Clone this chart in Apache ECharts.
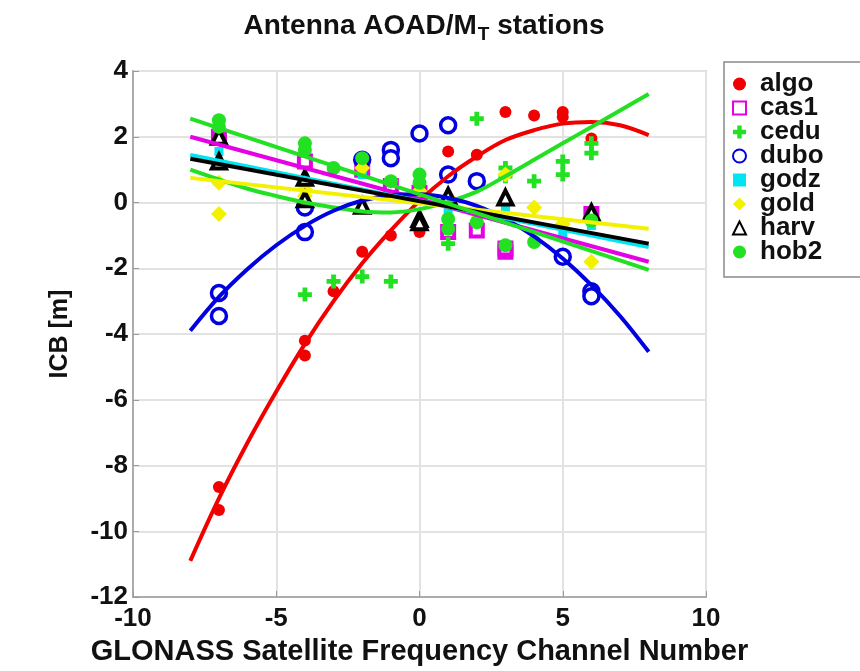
<!DOCTYPE html>
<html>
<head>
<meta charset="utf-8">
<script src="https://cdn.jsdelivr.net/npm/echarts@6/dist/echarts.min.js"></script>
<style>
  html, body { margin: 0; padding: 0; background: #ffffff; }
  #chart { width: 860px; height: 671px; }
</style>
</head>
<body>
<div id="chart"></div>
<script>
// ---- Measured ICB values per station (channel number, ICB in metres) ----
const algoX = [-7, -7, -4, -4, -3, -2, -1, 0, 0, 1, 2, 3, 4, 5, 5, 6];
const algoY = [-8.65, -9.35, -4.2, -4.65, -2.7, -1.5, -1.0, -0.75, -0.9, 1.55, 1.45, 2.75, 2.65, 2.75, 2.6, 1.95];

const cas1X = [-7, -4, -2, -1, 0, 1, 2, 3, 3, 6];
const cas1Y = [2.0, 1.25, 1.0, 0.5, 0.3, -0.9, -0.85, -1.5, -1.4, -0.35];

const ceduX = [-4, -3, -2, -1, 1, 2, 3, 3, 4, 5, 5, 6, 6];
const ceduY = [-2.8, -2.4, -2.25, -2.4, -1.25, 2.55, 1.05, 0.8, 0.65, 1.25, 0.85, 1.5, 1.8];

const duboX = [-7, -7, -4, -4, -2, -1, -1, 0, 1, 1, 2, 5, 6, 6];
const duboY = [-2.75, -3.45, -0.9, -0.15, 1.3, 1.6, 1.35, 2.1, 2.35, 0.85, 0.65, -1.65, -2.7, -2.85];

const godzX = [-7, -4, -2, 0, 1, 2, 3, 5, 6];
const godzY = [1.55, 0.4, 0.85, 0.25, -0.2, -0.45, -0.15, -0.95, -0.7];

const goldX = [-7, -7, -4, -4, -2, 0, 1, 2, 3, 4, 5, 6];
const goldY = [0.6, -0.35, 0.4, 0.2, 1.05, 0.35, 0.15, -0.35, 0.85, -0.15, -0.65, -1.8];

const harvX = [-7, -7, -4, -4, -2, 0, 0, 1, 3, 6];
const harvY = [2.0, 1.25, 0.75, 0.1, -0.1, -0.5, -0.6, 0.2, 0.15, -0.3];

const hob2X = [-7, -7, -4, -4, -3, -2, -1, 0, 0, 1, 1, 2, 3, 4, 6];
const hob2Y = [2.5, 2.3, 1.8, 1.6, 1.05, 1.35, 0.65, 0.85, 0.6, -0.5, -0.8, -0.6, -1.3, -1.2, -0.55];

// ---- Fitted curves (values read along channel -8 ... 8) ----
const curveX = [-8, -7, -6, -5, -4, -3, -2, -1, 0, 1, 2, 3, 4, 5, 6, 7, 8];
const algoFit = [-10.9, -9.0, -7.3, -5.75, -4.3, -3.0, -1.85, -0.85, 0.05, 0.8, 1.4, 1.9, 2.2, 2.4, 2.45, 2.35, 2.05];
const ceduFit = [1.0, 0.7, 0.42, 0.2, 0.0, -0.15, -0.27, -0.3, -0.2, 0.02, 0.33, 0.8, 1.3, 1.8, 2.3, 2.8, 3.3];
const duboFit = [-3.9, -2.87, -2.02, -1.3, -0.71, -0.25, 0.06, 0.22, 0.25, 0.14, -0.1, -0.5, -1.03, -1.7, -2.51, -3.45, -4.54];

// straight-line fits, given at both ends of the channel range
const lineX = [-8, 8];
const cas1Fit = [2.0, -1.8];
const godzFit = [1.45, -1.35];
const goldFit = [0.75, -0.8];
const harvFit = [1.33, -1.25];
const hob2Fit = [2.55, -2.05];

// ---- Axis ticks ----
const xTicks = [-10, -5, 0, 5, 10];
const yTicks = [-12, -10, -8, -6, -4, -2, 0, 2, 4];

const FONT = '"Liberation Sans", Arial, Helvetica, sans-serif';
const PLUS = 'path://M3.3,0H6.7V3.3H10V6.7H6.7V10H3.3V6.7H0V3.3H3.3Z';

const pair = (xs, ys) => xs.map((x, i) => [x, ys[i]]);

const stations = [
  { name: 'algo', x: algoX, y: algoY, fx: curveX, fy: algoFit, color: '#f20000', symbol: 'circle', size: 12, fill: '#f20000', bw: 0 },
  { name: 'cas1', x: cas1X, y: cas1Y, fx: lineX, fy: cas1Fit, color: '#e600e6', symbol: 'rect', size: 12, fill: '#ffffff', bw: 4 },
  { name: 'cedu', x: ceduX, y: ceduY, fx: curveX, fy: ceduFit, color: '#22e022', symbol: PLUS, size: 14, fill: '#22e022', bw: 0 },
  { name: 'dubo', x: duboX, y: duboY, fx: curveX, fy: duboFit, color: '#0000e0', symbol: 'circle', size: 15, fill: '#ffffff', bw: 3.5 },
  { name: 'godz', x: godzX, y: godzY, fx: lineX, fy: godzFit, color: '#00e5f0', symbol: 'rect', size: 9, fill: '#00e5f0', bw: 0 },
  { name: 'gold', x: goldX, y: goldY, fx: lineX, fy: goldFit, color: '#f2f200', symbol: 'diamond', size: 16, fill: '#f2f200', bw: 0 },
  { name: 'harv', x: harvX, y: harvY, fx: lineX, fy: harvFit, color: '#000000', symbol: 'triangle', size: 14, fill: '#ffffff', bw: 4 },
  { name: 'hob2', x: hob2X, y: hob2Y, fx: lineX, fy: hob2Fit, color: '#22e022', symbol: 'circle', size: 14, fill: '#22e022', bw: 0 }
];

const series = [];
stations.forEach((s, i) => {
  series.push({
    name: s.name,
    type: 'scatter',
    data: pair(s.x, s.y),
    symbol: s.symbol,
    symbolSize: s.size,
    itemStyle: { color: s.fill, borderColor: s.color, borderWidth: s.bw, opacity: 1 },
    z: 2 + i * 0.01,
    silent: true
  });
});
stations.forEach((s, i) => {
  series.push({
    name: s.name + ' fit',
    type: 'line',
    data: pair(s.fx, s.fy),
    smooth: s.fx.length > 2 ? 0.35 : false,
    showSymbol: false,
    lineStyle: { color: s.color, width: 4 },
    z: 3 + i * 0.01,
    silent: true
  });
});

const chart = echarts.init(document.getElementById('chart'), null, { renderer: 'canvas' });

const axisText = { color: '#111', fontFamily: FONT, fontWeight: 'bold', fontSize: 26 };

chart.setOption({
  animation: false,
  backgroundColor: '#ffffff',
  title: {
    text: '{a|Antenna AOAD/M}{s|T}{a| stations}',
    left: 419,
    top: 3,
    textAlign: 'center',
    textStyle: {
      rich: {
        a: { fontFamily: FONT, fontWeight: 'bold', fontSize: 28, color: '#111' },
        s: { fontFamily: FONT, fontWeight: 'bold', fontSize: 19, color: '#111', padding: [17, 0, 0, 1] }
      }
    }
  },
  grid: {
    left: 133, top: 71, width: 573, height: 544,
    show: true, borderColor: '#9a9a9a', borderWidth: 1.5, backgroundColor: '#ffffff'
  },
  legend: {
    orient: 'vertical',
    left: 724,
    top: 62,
    padding: [9, 80, 12, 8],
    itemGap: -2,
    itemWidth: 13,
    itemHeight: 13,
    borderColor: '#8a8a8a',
    borderWidth: 1.5,
    backgroundColor: '#ffffff',
    selectedMode: false,
    data: stations.map(s => s.name),
    textStyle: { color: '#111', fontFamily: FONT, fontWeight: 'bold', fontSize: 26, lineHeight: 24, padding: [0, 0, 0, 9] }
  },
  xAxis: {
    type: 'value',
    min: xTicks[0], max: xTicks[xTicks.length - 1], interval: 5,
    name: 'GLONASS Satellite Frequency Channel Number',
    nameLocation: 'middle',
    nameGap: 35,
    nameTextStyle: { color: '#111', fontFamily: FONT, fontWeight: 'bold', fontSize: 29 },
    axisLine: { show: true, onZero: false, lineStyle: { color: '#9a9a9a', width: 1.5 } },
    axisTick: { show: true, inside: true, length: 6, lineStyle: { color: '#9a9a9a' } },
    axisLabel: Object.assign({ margin: 9 }, axisText),
    splitLine: { show: true, lineStyle: { color: '#e2e2e2', width: 2 } }
  },
  yAxis: {
    type: 'value',
    min: yTicks[0], max: yTicks[yTicks.length - 1], interval: 2,
    name: 'ICB [m]',
    nameLocation: 'middle',
    nameGap: 60,
    nameRotate: 90,
    nameTextStyle: { color: '#111', fontFamily: FONT, fontWeight: 'bold', fontSize: 25 },
    axisLine: { show: true, onZero: false, lineStyle: { color: '#9a9a9a', width: 1.5 } },
    axisTick: { show: true, inside: true, length: 6, lineStyle: { color: '#9a9a9a' } },
    axisLabel: Object.assign({ margin: 5 }, axisText),
    splitLine: { show: true, lineStyle: { color: '#e2e2e2', width: 2 } }
  },
  series: series
});
</script>
</body>
</html>
